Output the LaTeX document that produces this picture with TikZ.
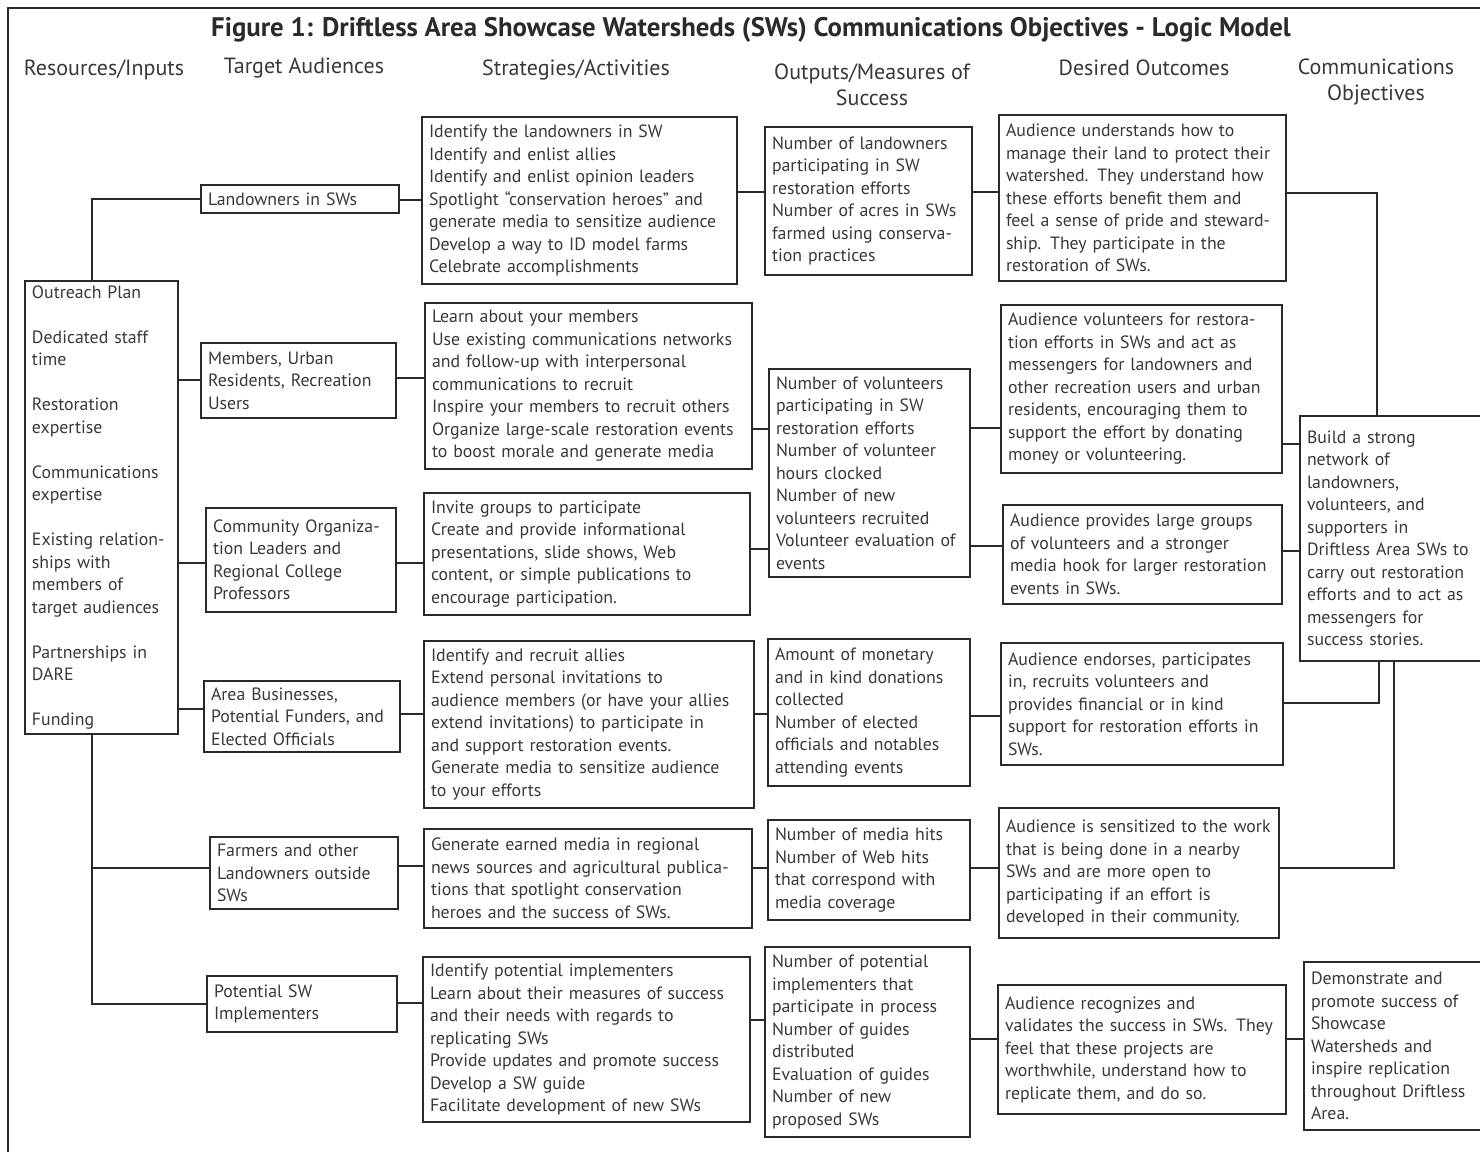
\documentclass[tikz,border=0pt]{standalone}
\usepackage{fontspec}
\setmainfont{PT Sans}
\usetikzlibrary{calc}
\definecolor{ink}{HTML}{2A2A2A}
\definecolor{txt}{HTML}{383838}
\tikzset{
  bx/.style={draw=ink, line width=1pt, inner xsep=3.5pt, inner ysep=0pt, align=left,
             font=\fontsize{8.9}{11.25}\selectfont, text=txt},
  conn/.style={draw=ink, line width=0.9pt},
  hdr/.style={font=\fontsize{11}{13}\selectfont, align=center, text=txt},
  ttl/.style={font=\bfseries\fontsize{13.4}{15}\selectfont, text=ink},
}
\newcommand\bx[6]{%
  \pgfmathsetmacro\bw{#4*0.5}\pgfmathsetmacro\bh{#5*0.5}\pgfmathsetmacro\tw{#4*0.5-7}%
  \node[bx,minimum width=\bw pt,minimum height=\bh pt,text width=\tw pt] (#1) at ({#2+#4/2},{#3+#5/2}) {#6};}
\begin{document}
\begin{tikzpicture}[x=0.5pt,y=-0.5pt]
\useasboundingbox (0,0) rectangle (1480,1152);
\draw[draw=ink, line width=1.2pt] (1480,8) -- (8,8) -- (8,1152);
% title and headers
\node[ttl] (title) at (751,30) {Figure 1: Driftless Area Showcase Watersheds (SWs) Communications Objectives - Logic Model};
\node[hdr] (h1) at (104,70) {Resources/Inputs};
\node[hdr] (h2) at (304,68) {Target Audiences};
\node[hdr] (h3) at (576,70) {Strategies/Activities};
\node[hdr] (h4) at (872,85) {Outputs/Measures of\\Success};
\node[hdr] (h5) at (1144,68) {Desired Outcomes};
\node[hdr] (h6) at (1376,82) {Communications\\Objectives};
% resources
\bx{R}{25}{281}{153}{453}{Outreach Plan\\[11.25pt]Dedicated staff\\time\\[11.25pt]Restoration\\expertise\\[11.25pt]Communications\\expertise\\[11.25pt]Existing relation-\\ships with\\members of\\target audiences\\[11.25pt]Partnerships in\\DARE\\[11.25pt]Funding}
% target audiences
\bx{T1}{201}{185}{198}{28}{Landowners in SWs}
\bx{T2}{201}{343}{195}{75}{Members, Urban\\Residents, Recreation\\Users}
\bx{T3}{206}{508}{190}{104}{Community Organiza-\\tion Leaders and\\Regional College\\Professors}
\bx{T4}{204}{681}{196}{71}{Area Businesses,\\Potential Funders, and\\Elected Officials}
\bx{T5}{210}{837}{188}{72}{Farmers and other\\Landowners outside\\SWs}
\bx{T6}{207}{976}{190}{56}{Potential SW\\Implementers}
% strategies
\bx{S1}{422}{117}{315}{167}{Identify the landowners in SW\\Identify and enlist allies\\Identify and enlist opinion leaders\\Spotlight “conservation heroes” and\\generate media to sensitize audience\\Develop a way to ID model farms\\Celebrate accomplishments}
\bx{S2}{425}{303}{327}{166}{Learn about your members\\Use existing communications networks\\and follow-up with interpersonal\\communications to recruit\\Inspire your members to recruit others\\Organize large-scale restoration events\\to boost morale and generate media}
\bx{S3}{424}{493}{326}{122}{Invite groups to participate\\Create and provide informational\\presentations, slide shows, Web\\content, or simple publications to\\encourage participation.}
\bx{S4}{424}{641}{330}{167}{Identify and recruit allies\\Extend personal invitations to\\audience members (or have your allies\\extend invitations) to participate in\\and support restoration events.\\Generate media to sensitize audience\\to your efforts}
\bx{S5}{424}{829}{328}{99}{Generate earned media in regional\\news sources and agricultural publica-\\tions that spotlight conservation\\heroes and the success of SWs.}
\bx{S6}{423}{957}{327}{165}{Identify potential implementers\\Learn about their measures of success\\and their needs with regards to\\replicating SWs\\Provide updates and promote success\\Develop a SW guide\\Facilitate development of new SWs}
% outputs
\bx{O1}{765}{127}{207}{148}{Number of landowners\\participating in SW\\restoration efforts\\Number of acres in SWs\\farmed using conserva-\\tion practices}
\bx{O2}{769}{369}{201}{208}{Number of volunteers\\participating in SW\\restoration efforts\\Number of volunteer\\hours clocked\\Number of new\\volunteers recruited\\Volunteer evaluation of\\events}
\bx{O3}{768}{639}{202}{147}{Amount of monetary\\and in kind donations\\collected\\Number of elected\\officials and notables\\attending events}
\bx{O4}{768}{820}{202}{100}{Number of media hits\\Number of Web hits\\that correspond with\\media coverage}
\bx{O5}{765}{947}{205}{190}{Number of potential\\implementers that\\participate in process\\Number of guides\\distributed\\Evaluation of guides\\Number of new\\proposed SWs}
% outcomes
\bx{D1}{999}{115}{287}{166}{Audience understands how to\\manage their land to protect their\\watershed. They understand how\\these efforts benefit them and\\feel a sense of pride and steward-\\ship. They participate in the\\restoration of SWs.}
\bx{D2}{1001}{305}{281}{168}{Audience volunteers for restora-\\tion efforts in SWs and act as\\messengers for landowners and\\other recreation users and urban\\residents, encouraging them to\\support the effort by donating\\money or volunteering.}
\bx{D3}{1003}{505}{279}{99}{Audience provides large groups\\of volunteers and a stronger\\media hook for larger restoration\\events in SWs.}
\bx{D4}{1001}{643}{282}{122}{Audience endorses, participates\\in, recruits volunteers and\\provides financial or in kind\\support for restoration efforts in\\SWs.}
\bx{D5}{999}{808}{280}{130}{Audience is sensitized to the work\\that is being done in a nearby\\SWs and are more open to\\participating if an effort is\\developed in their community.}
\bx{D6}{998}{985}{288}{129}{Audience recognizes and\\validates the success in SWs. They\\feel that these projects are\\worthwhile, understand how to\\replicate them, and do so.}
% objectives
\bx{C1}{1300}{416}{182}{245}{Build a strong\\network of\\landowners,\\volunteers, and\\supporters in\\Driftless Area SWs to\\carry out restoration\\efforts and to act as\\messengers for\\success stories.}
\bx{C2}{1304}{962}{178}{168}{Demonstrate and\\promote success of\\Showcase\\Watersheds and\\inspire replication\\throughout Driftless\\Area.}
% connectors: resources -> audiences
\draw[conn] (R.north -| 92,0) |- (T1.west);
\draw[conn] (R.south -| 92,0) |- (T6.west);
\draw[conn] (R.south -| 92,0) |- (T5.west |- 0,868);
\draw[conn] (R.east |- 0,380) -- (T2.west |- 0,380);
\draw[conn] (R.east |- 0,563) -- (T3.west |- 0,563);
\draw[conn] (R.east |- 0,709) -- (T4.west |- 0,709);
% audiences -> strategies
\draw[conn] (T1.east |- 0,200) -- (S1.west |- 0,200);
\draw[conn] (T2.east |- 0,378) -- (S2.west |- 0,378);
\draw[conn] (T3.east |- 0,563) -- (S3.west |- 0,563);
\draw[conn] (T4.east |- 0,714) -- (S4.west |- 0,714);
\draw[conn] (T5.east |- 0,866) -- (S5.west |- 0,866);
\draw[conn] (T6.east |- 0,1003) -- (S6.west |- 0,1003);
% strategies -> outputs
\draw[conn] (S1.east |- 0,192) -- (O1.west |- 0,192);
\draw[conn] (S2.east |- 0,429) -- (O2.west |- 0,429);
\draw[conn] (S3.east |- 0,549) -- (O2.west |- 0,549);
\draw[conn] (S4.east |- 0,714) -- (O3.west |- 0,714);
\draw[conn] (S5.east |- 0,868) -- (O4.west |- 0,868);
\draw[conn] (S6.east |- 0,1020) -- (O5.west |- 0,1020);
% outputs -> outcomes
\draw[conn] (O1.east |- 0,192) -- (D1.west |- 0,192);
\draw[conn] (O2.east |- 0,428) -- (D2.west |- 0,428);
\draw[conn] (O2.east |- 0,546) -- (D3.west |- 0,546);
\draw[conn] (O3.east |- 0,716) -- (D4.west |- 0,716);
\draw[conn] (O4.east |- 0,868) -- (D5.west |- 0,868);
\draw[conn] (O5.east |- 0,1039) -- (D6.west |- 0,1039);
% outcomes -> objectives
\draw[conn] (D1.east |- 0,193) -| (C1.north -| 1377,0);
\draw[conn] (D2.east |- 0,444) -- (C1.west |- 0,444);
\draw[conn] (D3.east |- 0,551) -- (C1.west |- 0,551);
\draw[conn] (D4.east |- 0,703) -| (C1.south -| 1379,0);
\draw[conn] (D5.east |- 0,868) -| (C1.south -| 1394,0);
\draw[conn] (D6.east |- 0,1039) -- (C2.west |- 0,1039);
\end{tikzpicture}
\end{document}
